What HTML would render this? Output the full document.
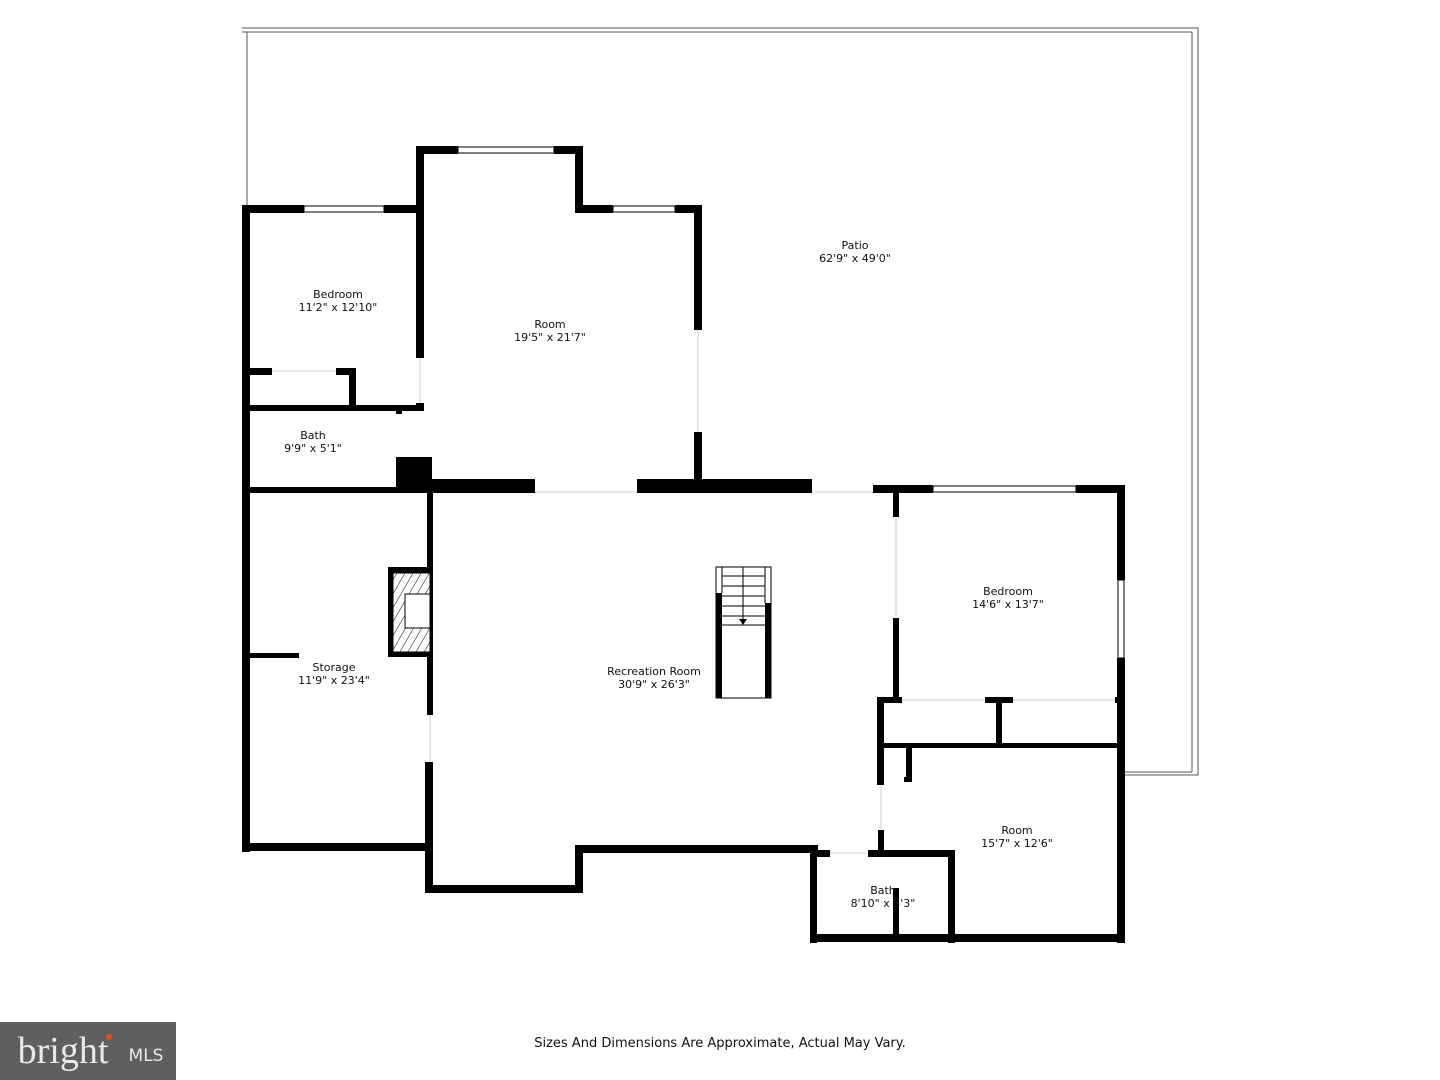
<!DOCTYPE html>
<html><head><meta charset="utf-8"><style>
html,body{margin:0;padding:0;background:#fff;}
svg{display:block;}
text{font-family:"DejaVu Sans","Liberation Sans",sans-serif;font-size:11px;fill:#111;text-anchor:middle;}
</style></head><body>
<svg width="1440" height="1080" viewBox="0 0 1440 1080" xmlns="http://www.w3.org/2000/svg">
<defs><pattern id="h" width="7" height="7" patternUnits="userSpaceOnUse" patternTransform="rotate(30)"><rect width="7" height="7" fill="#fff"/><line x1="0" y1="0" x2="0" y2="7" stroke="#000" stroke-width="1"/></pattern></defs>
<!-- patio outline -->
<g fill="none" stroke="#555" stroke-width="1">
<polyline points="242,28 1198,28 1198,775 1125,775"/>
<line x1="247" y1="32" x2="247" y2="205"/>
<line x1="242" y1="32" x2="1192" y2="32"/>
<line x1="1192" y1="32" x2="1192" y2="772"/>
<line x1="1125" y1="772" x2="1192" y2="772"/>
</g>
<g fill="#000">
<rect x="242" y="205" width="8" height="647"/>
<rect x="242" y="205" width="62" height="8"/>
<rect x="384" y="205" width="40" height="8"/>
<rect x="416" y="146" width="8" height="212"/>
<rect x="416" y="146" width="42" height="8"/>
<rect x="554" y="146" width="29" height="8"/>
<rect x="575" y="146" width="8" height="67"/>
<rect x="575" y="205" width="38" height="8"/>
<rect x="675" y="205" width="27" height="8"/>
<rect x="694" y="205" width="8" height="125"/>
<rect x="694" y="432" width="8" height="61"/>
<rect x="416" y="403" width="8" height="8"/>
<rect x="242" y="368" width="30" height="7"/>
<rect x="336" y="368" width="20" height="7"/>
<rect x="349" y="368" width="7" height="42"/>
<rect x="242" y="405" width="182" height="6"/>
<rect x="396" y="457" width="36" height="36"/>
<rect x="396" y="411" width="6" height="3"/>
<rect x="242" y="487" width="190" height="6"/>
<rect x="432" y="479" width="103" height="14"/>
<rect x="637" y="479" width="175" height="14"/>
<rect x="873" y="485" width="60" height="8"/>
<rect x="1076" y="485" width="49" height="8"/>
<rect x="427" y="493" width="6" height="77"/>
<rect x="388" y="567" width="45" height="90"/>
<rect x="427" y="657" width="6" height="58"/>
<rect x="425" y="762" width="8" height="131"/>
<rect x="242" y="843" width="190" height="8"/>
<rect x="248" y="653" width="51" height="5"/>
<rect x="425" y="885" width="158" height="8"/>
<rect x="575" y="845" width="8" height="48"/>
<rect x="575" y="845" width="243" height="8"/>
<rect x="1117" y="485" width="8" height="95"/>
<rect x="1117" y="658" width="8" height="285"/>
<rect x="893" y="485" width="6" height="32"/>
<rect x="893" y="618" width="6" height="82"/>
<rect x="877" y="697" width="25" height="6"/>
<rect x="985" y="697" width="28" height="6"/>
<rect x="996" y="697" width="6" height="48"/>
<rect x="1115" y="697" width="5" height="6"/>
<rect x="877" y="697" width="7" height="88"/>
<rect x="877" y="743" width="248" height="5"/>
<rect x="906" y="745" width="6" height="37"/>
<rect x="904" y="777" width="8" height="5"/>
<rect x="878" y="830" width="6" height="25"/>
<rect x="810" y="845" width="7" height="98"/>
<rect x="810" y="850" width="20" height="7"/>
<rect x="868" y="850" width="87" height="7"/>
<rect x="948" y="850" width="7" height="93"/>
<rect x="810" y="934" width="315" height="8"/>
<rect x="893" y="888" width="6" height="54"/>
<rect x="716" y="593" width="6" height="105"/>
<rect x="765" y="603" width="6" height="95"/>
</g>
<g fill="#fff" stroke="#000" stroke-width="1">
<rect x="304" y="206" width="80" height="6"/>
<rect x="458" y="147" width="96" height="6"/>
<rect x="613" y="206" width="62" height="6"/>
<rect x="933" y="486" width="143" height="6"/>
<rect x="1118" y="580" width="6" height="78"/>
</g>
<g stroke="#ccc" stroke-width="1">
<line x1="698" y1="330" x2="698" y2="432"/>
<line x1="535" y1="492" x2="637" y2="492"/>
<line x1="812" y1="492" x2="873" y2="492"/>
<line x1="896" y1="517" x2="896" y2="618"/>
<line x1="902" y1="700" x2="985" y2="700"/>
<line x1="1013" y1="700" x2="1115" y2="700"/>
<line x1="430" y1="715" x2="430" y2="762"/>
<line x1="881" y1="785" x2="881" y2="830"/>
<line x1="830" y1="853" x2="868" y2="853"/>
<line x1="272" y1="371" x2="336" y2="371"/>
<line x1="420" y1="358" x2="420" y2="403"/>
</g>
<rect x="393" y="573" width="37" height="79" fill="url(#h)" stroke="#000" stroke-width="1"/>
<rect x="405" y="594" width="25" height="34" fill="#fff" stroke="#000" stroke-width="1"/>
<g stroke="#000" stroke-width="1" fill="none">
<rect x="716" y="567" width="55" height="131"/>
<line x1="722" y1="567" x2="722" y2="593"/><line x1="765" y1="567" x2="765" y2="603"/>
<line x1="743" y1="567" x2="743" y2="620"/>
<line x1="722" y1="576" x2="765" y2="576"/><line x1="722" y1="586" x2="765" y2="586"/>
<line x1="722" y1="596" x2="765" y2="596"/><line x1="722" y1="606" x2="765" y2="606"/>
<line x1="722" y1="616" x2="765" y2="616"/><line x1="722" y1="625" x2="765" y2="625"/>
</g>
<polygon points="739,619 747,619 743,625" fill="#000"/>
<text x="855" y="249">Patio</text><text x="855" y="262">62'9" x 49'0"</text>
<text x="338" y="298">Bedroom</text><text x="338" y="311">11'2" x 12'10"</text>
<text x="550" y="328">Room</text><text x="550" y="341">19'5" x 21'7"</text>
<text x="313" y="439">Bath</text><text x="313" y="452">9'9" x 5'1"</text>
<text x="1008" y="595">Bedroom</text><text x="1008" y="608">14'6" x 13'7"</text>
<text x="334" y="671">Storage</text><text x="334" y="684">11'9" x 23'4"</text>
<text x="654" y="675">Recreation Room</text><text x="654" y="688">30'9" x 26'3"</text>
<text x="1017" y="834">Room</text><text x="1017" y="847">15'7" x 12'6"</text>
<text x="883" y="894">Bath</text><text x="883" y="907">8'10" x 5'3"</text>
<text x="720" y="1047" style="font-size:13px">Sizes And Dimensions Are Approximate, Actual May Vary.</text>
<rect x="0" y="1022" width="176" height="58" fill="#5f5f5f"/>
<text x="63" y="1063" style="font-family:'Liberation Serif',serif;font-size:38px;fill:#e8e8e8">bright</text>
<circle cx="109" cy="1037" r="3" fill="#e0501c"/>
<text x="146" y="1061" style="font-size:17px;fill:#e8e8e8">MLS</text>
</svg>
</body></html>
